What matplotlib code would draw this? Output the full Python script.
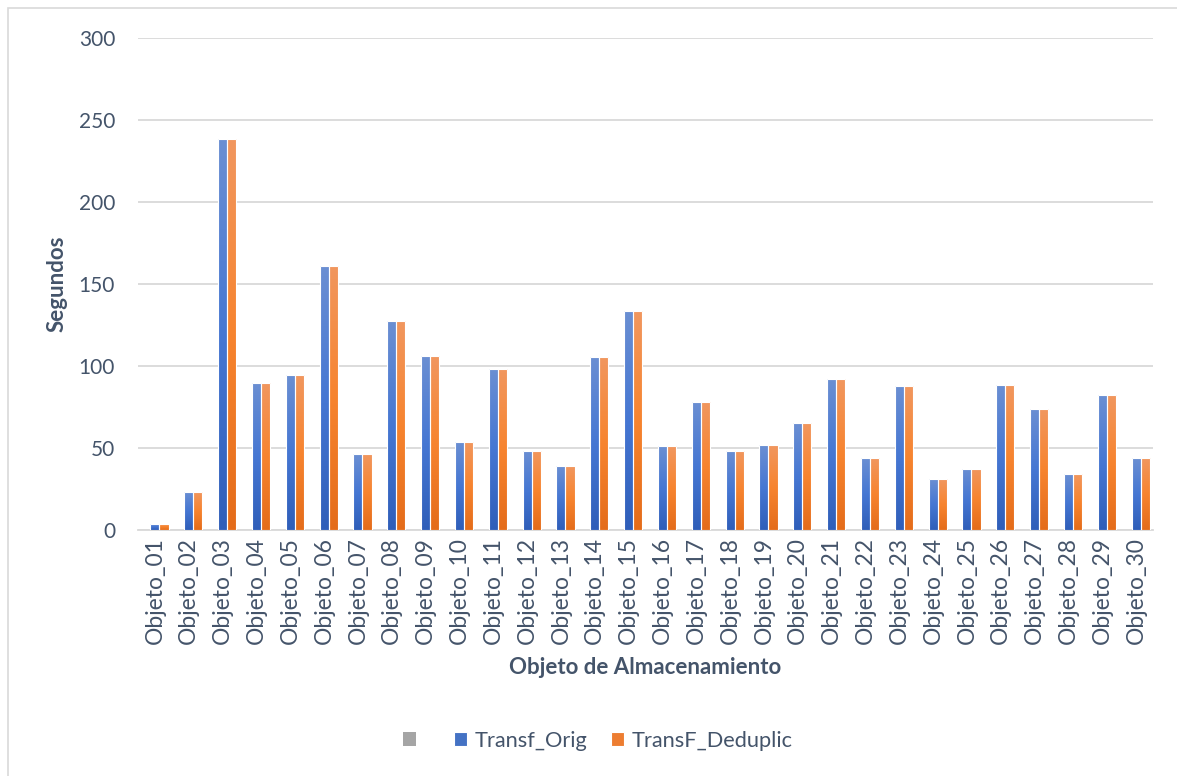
import numpy as np
import matplotlib
matplotlib.use('Agg')
import matplotlib.pyplot as plt
from matplotlib.colors import LinearSegmentedColormap
from matplotlib.patches import Rectangle

objetos = [f'Objeto_{i:02d}' for i in range(1, 31)]
transf_orig = [3.7, 23.2, 238.4, 89.6, 94.5, 161.0, 46.3, 127.4, 106.0, 53.7,
               98.2, 48.2, 39.0, 105.5, 133.5, 51.2, 78.0, 48.2, 51.8, 65.2,
               92.0, 43.9, 87.8, 31.0, 37.2, 88.4, 73.8, 34.1, 82.3, 43.9]
transf_dedup = [3.7, 23.2, 238.4, 89.6, 94.5, 161.0, 46.3, 127.4, 106.0, 53.7,
                98.2, 48.2, 39.0, 105.5, 133.5, 51.2, 78.0, 48.2, 51.8, 65.2,
                92.0, 43.9, 87.8, 31.0, 37.2, 88.4, 73.8, 34.1, 82.3, 43.9]
vacio = [0] * 30

txt = '#44546A'
grid_c = '#D9D9D9'
plt.rcParams['font.family'] = ['Lato', 'DejaVu Sans']

fig = plt.figure(figsize=(11.77, 7.76), dpi=100)
ax = fig.add_axes([138/1177, 246/776, 1015/1177, 492/776])

x = np.arange(len(objetos))
w = 0.27
b0 = ax.bar(x - w, vacio, w, color='#A5A5A5', label=' ')
b1 = ax.bar(x, transf_orig, w, color='#4472C4', edgecolor='white', linewidth=0.8,
            label='Transf_Orig', zorder=3)
b2 = ax.bar(x + w, transf_dedup, w, color='#ED7D31', edgecolor='white', linewidth=0.8,
            label='TransF_Deduplic', zorder=3)

# gradient fill for each bar (light top, saturated middle, darker bottom)
cm_blue = LinearSegmentedColormap.from_list('b', ['#2F5EB9', '#4677D3', '#6B8FD2'])
cm_orng = LinearSegmentedColormap.from_list('o', ['#E46C1A', '#F7842F', '#F1975F'])
grad = np.linspace(0, 1, 256).reshape(-1, 1)
for bars, cm in ((b1, cm_blue), (b2, cm_orng)):
    for p in bars:
        x0, y0 = p.get_x(), p.get_y()
        im = ax.imshow(grad, cmap=cm, origin='lower', aspect='auto', zorder=3.5,
                       extent=(x0, x0 + p.get_width(), y0, y0 + p.get_height()))
        im.set_clip_path(p)
        ax.add_patch(Rectangle((x0, y0), p.get_width(), p.get_height(), fill=False,
                               edgecolor='white', linewidth=0.8, zorder=3.6))

ax.set_xlim(-0.5, 29.5)
ax.set_ylim(0, 300)
ax.set_yticks(range(0, 301, 50))
ax.yaxis.grid(True, color=grid_c, linewidth=1.3, zorder=0)
ax.set_axisbelow(True)
for s in ('top', 'right', 'left'):
    ax.spines[s].set_visible(False)
ax.spines['bottom'].set_color(grid_c)
ax.spines['bottom'].set_linewidth(1.3)
ax.tick_params(length=0, labelcolor=txt)
ax.tick_params(axis='y', pad=16.5, labelsize=15)
ax.tick_params(axis='x', pad=5, labelsize=16.5)
ax.set_xticks(x)
ax.set_xticklabels(objetos, rotation=90)

ax.set_ylabel('Segundos', fontsize=16, fontweight='bold', color=txt, labelpad=8)
ax.set_xlabel('Objeto de Almacenamiento', fontsize=16, fontweight='bold', color=txt, labelpad=9)

ax.legend(handles=[b0, b1, b2], loc='center', bbox_to_anchor=(460/1015, -0.429),
          ncol=3, frameon=False, fontsize=15.7, labelcolor=txt, handlelength=0.6,
          handleheight=0.6, handletextpad=0.35, columnspacing=1.1)

# chart border
fig.add_artist(Rectangle((8/1177, -0.1), 1.2, (776 - 8)/776 + 0.1, transform=fig.transFigure,
                         fill=False, edgecolor=grid_c, linewidth=1.2))

fig.savefig('out.png', dpi=100, facecolor='white')
